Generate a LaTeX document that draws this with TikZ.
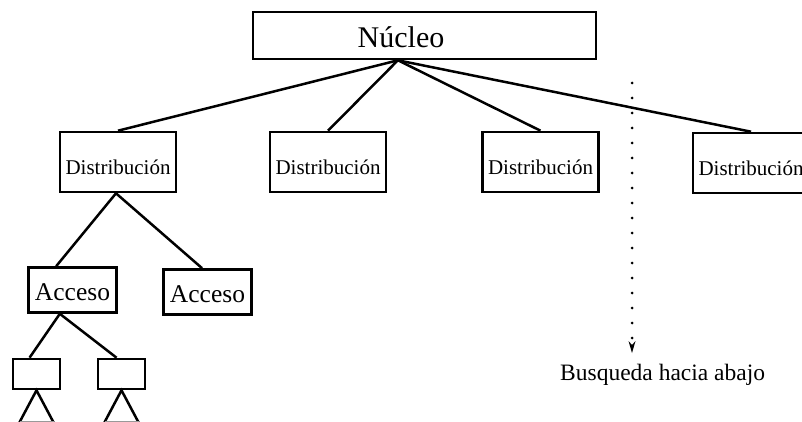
\documentclass[tikz,border=0pt]{standalone}
\usepackage{fontspec}
\setmainfont{Liberation Serif}
\usetikzlibrary{calc,arrows.meta}
\begin{document}
\begin{tikzpicture}[x=1pt,y=-1pt,
  box/.style={draw,line width=2.6pt,rectangle,inner sep=0pt,anchor=center,text depth=0pt},
  link/.style={line width=2.5pt},
  nucbox/.style={box,minimum width=343pt,minimum height=47pt},
  nuctext/.style={anchor=base,inner sep=0pt,font=\fontsize{30}{32}\selectfont},
  distbox/.style={box,minimum width=116pt,minimum height=60pt,text height=25pt,font=\fontsize{21}{23}\selectfont},
  accbox/.style={box,minimum width=88pt,minimum height=45pt,text height=20pt,font=\fontsize{25.5}{27}\selectfont},
  leafbox/.style={box,minimum width=47pt,minimum height=30pt}]
\useasboundingbox (0,0) rectangle (802,422);

% top level
\node[nucbox] (nuc) at (424.5,35.5) {};
\node[nuctext] (nuct) at (401,48) {Núcleo};
\coordinate (hub) at ($(nuc.south west)!0.423!(nuc.south east)$);

% distribution level
\node[distbox] (d1) at (118,162) {Distribución};
\node[distbox] (d2) at (328,162) {Distribución};
\node[distbox] (d3) at (540.5,162) {Distribución};
\node[distbox] (d4) at (751,163) {Distribución};

\foreach \d in {d1,d2,d3,d4} \draw[link] (hub) -- (\d.north);

% access level
\node[accbox] (a1) at (72.5,290) {Acceso};
\node[accbox] (a2) at (207.5,292) {Acceso};
\draw[link] ($(d1.south)+(-2,0)$) -- ($(a1.north west)!0.32!(a1.north east)$);
\draw[link] ($(d1.south)+(-2,0)$) -- ($(a2.north west)!0.44!(a2.north east)$);

% leaves
\node[leafbox] (l1) at (36.5,374) {};
\node[leafbox] (l2) at (121.5,374) {};
\coordinate (a1b) at ($(a1.south west)!0.36!(a1.south east)$);
\draw[link] (a1b) -- ($(l1.north west)!0.36!(l1.north east)$);
\draw[link] (a1b) -- ($(l2.north west)!0.40!(l2.north east)$);

% subtrees
\draw[link,line join=miter] ($(l1.south)+(-17,32)$) -- (l1.south) -- ($(l1.south)+(17,32)$);
\draw[link,line join=miter] ($(l2.south)+(-17,32)$) -- (l2.south) -- ($(l2.south)+(17,32)$);
\draw[line width=1pt,black!40] ($(l1.south)+(-17,31.5)$) -- ($(l1.south)+(17,31.5)$);
\draw[line width=1pt,black!40] ($(l2.south)+(-17,31.5)$) -- ($(l2.south)+(17,31.5)$);

% search direction
\coordinate (stop) at (632,83);
\coordinate (sbot) at (632,353);
\draw[line width=3pt,line cap=round,dash pattern=on 0pt off 15pt,
      -{Stealth[length=12pt,width=7pt,inset=4pt,line width=0pt,line cap=butt]}] (stop) -- (sbot);
\node[anchor=base west,inner sep=0pt,font=\fontsize{23.5}{25}\selectfont] (lbl) at (560,380) {Busqueda hacia abajo};
\end{tikzpicture}
\end{document}
